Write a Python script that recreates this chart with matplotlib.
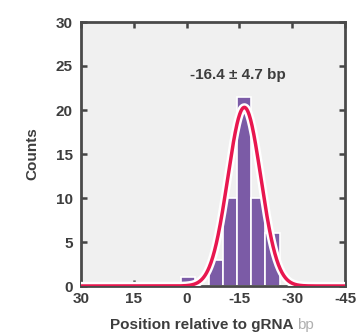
import numpy as np
import matplotlib
matplotlib.use("Agg")
import matplotlib.pyplot as plt
import matplotlib.patheffects as pe

# Data
bin_centers = [-0.4, -8.4, -12.4, -16.4, -20.4, -24.4]
counts = [1, 3, 10, 21.5, 10, 6]
bin_width = 4
fit_mean = -16.4
fit_sd = 4.7
fit_amp = 20.3
x_ticks = [30, 15, 0, -15, -30, -45]
y_ticks = [0, 5, 10, 15, 20, 25, 30]
annotation = "-16.4 ± 4.7 bp"

plt.rcParams['font.family'] = ['Liberation Sans', 'DejaVu Sans']
dark = '#3d3d3d'
fs = 11
W, H = 356, 333
fig = plt.figure(figsize=(W/100, H/100), dpi=100)
ax = fig.add_axes([81/W, 1-286/H, (345-81)/W, (286-22)/H])
ax.set_facecolor('#f0f0f0')

ax.bar(bin_centers, counts, width=bin_width, color='#7b5ba6', edgecolor='white', linewidth=1.2, zorder=2)

xs = np.linspace(30, -45, 600)
ys = fit_amp*np.exp(-0.5*((xs-fit_mean)/fit_sd)**2)
ax.plot(xs, ys, color='#e8174f', lw=2.5, zorder=3, solid_capstyle='butt',
        path_effects=[pe.Stroke(linewidth=6, foreground='white'), pe.Normal()])

ax.set_xlim(30, -45)
ax.set_ylim(0, 30)
ax.set_xticks(x_ticks)
ax.set_yticks(y_ticks)
ax.set_xticklabels([str(t) for t in x_ticks], fontweight='bold', color=dark, fontsize=fs)
ax.set_yticklabels([str(t) for t in y_ticks], fontweight='bold', color=dark, fontsize=fs)
ax.tick_params(direction='in', length=4, width=1.8, color='#444444', top=True, right=True,
               labeltop=False, labelright=False)
ax.tick_params(axis='x', pad=4)
ax.tick_params(axis='y', pad=6)
for s in ax.spines.values():
    s.set_color('#4a4a4a')
    s.set_linewidth(2)

ax.text(-14.7, 24.0, annotation, ha='center', va='center', fontweight='bold', color=dark, fontsize=fs)
ax.set_ylabel('Counts', fontweight='bold', color=dark, fontsize=fs, labelpad=12)

fig.canvas.draw()
t1 = fig.text(110/W, 1-325/H, 'Position relative to gRNA ', ha='left', va='center',
              fontweight='bold', color=dark, fontsize=fs)
fig.canvas.draw()
bb = t1.get_window_extent()
fig.text(bb.x1/W, 1-325/H, 'bp', ha='left', va='center', color='#b0b0b0', fontsize=fs)

fig.savefig('out.png', dpi=100)
